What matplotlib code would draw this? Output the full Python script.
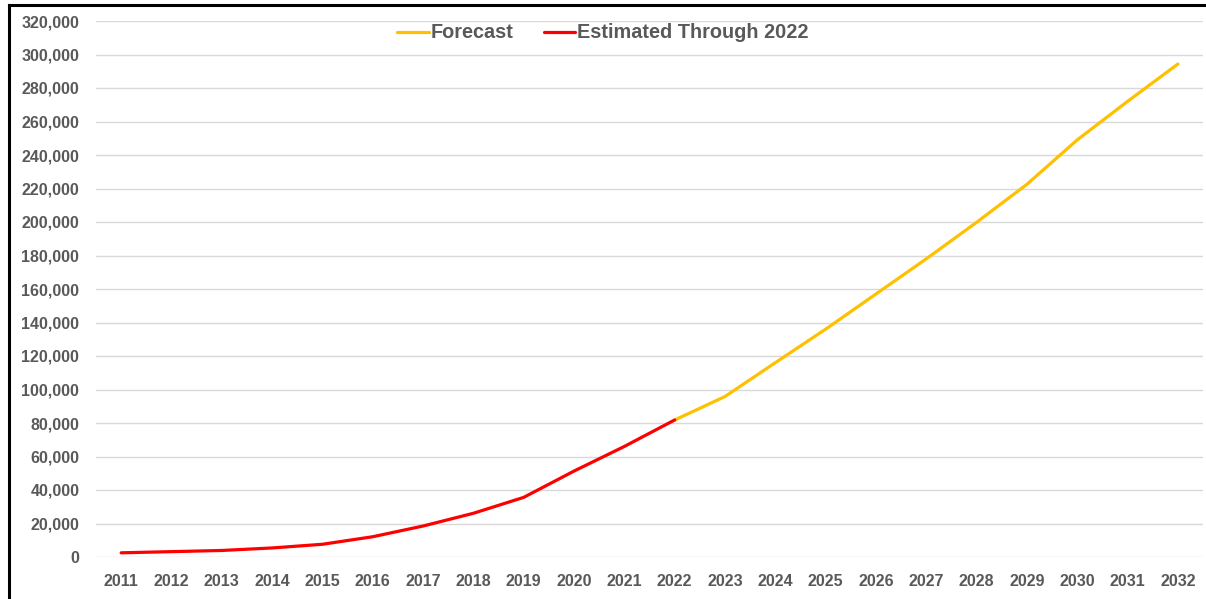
import matplotlib.pyplot as plt
from matplotlib.lines import Line2D
from matplotlib.ticker import FuncFormatter

years = list(range(2011, 2033))
estimated = [2500, 3200, 3900, 5400, 7600, 12100, 18500, 26100, 35600,
             51300, 66000, 81800]
forecast = [81800, 95800, 116000, 136000, 157000, 178000, 199800, 222500,
            249000, 272000, 294300]

est_years = years[:12]
fc_years = years[11:]

plt.rcParams["font.family"] = ["Liberation Sans", "DejaVu Sans"]
grey = "#595959"

fig = plt.figure(figsize=(12.06, 5.99), dpi=100)
ax = fig.add_axes([96 / 1206, 42 / 599, (1203 - 96) / 1206, (557 - 21) / 599])

ax.plot(fc_years, forecast, color="#FFC000", lw=2.3, label="Forecast",
        solid_capstyle="round")
ax.plot(est_years, estimated, color="#FF0000", lw=2.3,
        label="Estimated Through 2022", solid_capstyle="round")

ax.set_xlim(2010.5, 2032.5)
ax.set_ylim(0, 320000)
ax.set_xticks(years)
ax.set_yticks(range(0, 320001, 20000))
ax.yaxis.set_major_formatter(FuncFormatter(lambda v, p: f"{int(v):,}"))
ax.grid(axis="y", color="#d9d9d9", lw=1)
ax.set_axisbelow(True)
for s in ax.spines.values():
    s.set_visible(False)
ax.tick_params(length=0, colors=grey, labelsize=11.5)
ax.tick_params(axis="y", pad=12)
ax.tick_params(axis="x", pad=12.5)
for lbl in ax.get_xticklabels() + ax.get_yticklabels():
    lbl.set_fontweight("bold")

leg = ax.legend(loc="center", bbox_to_anchor=(603 / 1206, 1 - 33 / 599),
                bbox_transform=fig.transFigure, ncol=2, frameon=False,
                handlelength=1.6, handletextpad=0.1, columnspacing=1.5,
                prop={"weight": "bold", "size": 14.3})
for t in leg.get_texts():
    t.set_color(grey)

# outer frame (left and top edges)
fig.add_artist(Line2D([8.5 / 1206, 8.5 / 1206], [0, 1 - 5 / 599],
                      transform=fig.transFigure, color="black", lw=2.2))
fig.add_artist(Line2D([8.5 / 1206, 1], [1 - 5 / 599, 1 - 5 / 599],
                      transform=fig.transFigure, color="black", lw=2.2))

fig.savefig("out.png", dpi=100)
